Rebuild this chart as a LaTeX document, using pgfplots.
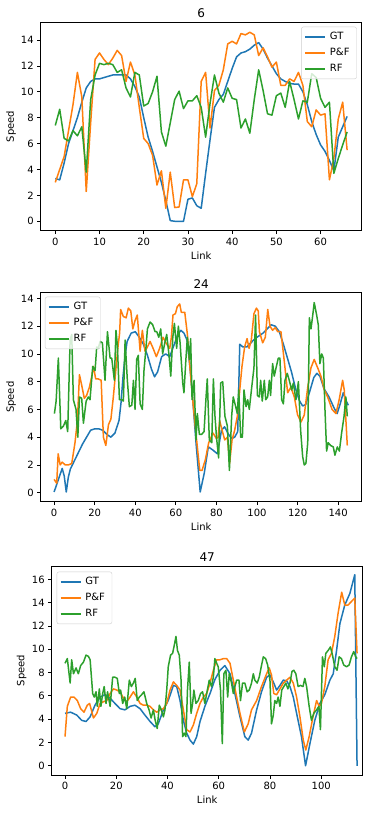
\documentclass[border=0pt]{standalone}
\usepackage{pgfplots}
\pgfplotsset{compat=1.18}
\usepackage{fontspec}
\setmainfont{DejaVu Sans}

\definecolor{cblue}{HTML}{1F77B4}
\definecolor{corange}{HTML}{FF7F0E}
\definecolor{cgreen}{HTML}{2CA02C}

\pgfplotsset{
  speedplot/.style={
    scale only axis,
    anchor=south west,
    axis line style={line width=0.8pt, black},
    tick align=outside,
    xtick pos=bottom, ytick pos=left,
    major tick length=3.5pt,
    tick style={line width=0.8pt, black},
    /pgf/number format/assume math mode=true,
    tick label style={font=\fontsize{10}{12}\selectfont},
    label style={font=\fontsize{10}{12}\selectfont},
    title style={font=\fontsize{12}{14}\selectfont, anchor=center},
    xlabel={Link}, ylabel={Speed},
    legend cell align=left,
    legend image code/.code={\draw[#1] (0pt,0pt) -- (20pt,0pt);},
    legend style={font=\fontsize{10}{12}\selectfont, draw=black!20, rounded corners=2pt,
      fill=white, fill opacity=0.8, text opacity=1, inner xsep=3pt, inner ysep=2pt,
      nodes={text height=7.5pt, text depth=2.5pt, inner ysep=3pt, inner xsep=4pt}},
    every axis plot/.append style={line width=1.5pt, line join=round},
  },
}

\begin{document}
\begin{tikzpicture}
\useasboundingbox (0pt,0pt) rectangle (380pt,-817pt);

% ---------- 6 ----------
\begin{axis}[speedplot,
  at={(40.7pt,-230.7pt)}, width=321pt, height=208.4pt,
  xmin=-3.3, xmax=69.3, ymin=-0.73, ymax=15.37,
  xtick={0,10,...,60}, ytick={0,2,...,14},
  title={6}, title style={at={([yshift=3.4pt]axis description cs:0.5,1)}},
  xlabel style={at={([yshift=-25.3pt]axis description cs:0.5,0)}, anchor=center},
  ylabel style={at={([xshift=-29.7pt]axis description cs:0,0.5)}, anchor=center},
  legend style={at={([xshift=-5pt,yshift=-4.4pt]axis description cs:1,1)}, anchor=north east},
]
\addplot[cblue] coordinates {(0,3.3)(1,3.2)(2,4.5)(3,6.0)(4,7.0)(5,8.0)(6,9.2)(7,10.3)(8,10.8)(9,11.0)(10,11.0)(11,11.1)(12,11.2)(13,11.3)(14,11.3)(15,11.3)(16,11.3)(17,11.0)(18,10.4)(19,9.6)(20,8.0)(21,6.5)(22,5.4)(23,4.2)(24,3.0)(25,1.6)(26,0.05)(27,0)(28,0)(29,0)(30,1.7)(31,1.8)(32,1.2)(33,1.0)(34,3.7)(35,6.3)(36,8.8)(37,9.4)(38,9.8)(39,10.8)(40,11.8)(41,12.7)(42,13.0)(43,13.1)(44,13.3)(45,13.6)(46,13.8)(47,13.3)(48,12.6)(49,12.0)(50,11.4)(51,11.0)(52,10.8)(53,10.65)(54,10.6)(55,10.6)(56,10.0)(57,9.0)(58,7.7)(59,6.7)(60,5.9)(61,5.4)(62,4.7)(63,3.9)(64,6.5)(65,7.3)(66,8.1)};
\addplot[corange] coordinates {(0,3.0)(1,4.0)(2,5.0)(3,7.0)(4,9.0)(5,11.5)(6,9.6)(7,2.3)(8,7.6)(9,12.5)(10,13.0)(11,12.5)(12,12.1)(13,12.6)(14,13.2)(15,12.8)(16,10.8)(17,12.3)(18,11.3)(19,8.8)(20,6.4)(21,6.0)(22,5.1)(23,2.8)(24,3.9)(25,1.0)(26,3.8)(27,1.06)(28,1.1)(29,3.2)(30,3.2)(31,1.9)(32,2.9)(33,10.8)(34,11.5)(35,7.2)(36,10.1)(37,10.5)(38,11.7)(39,13.7)(40,13.9)(41,13.7)(42,14.5)(43,14.4)(44,14.6)(45,14.4)(46,12.8)(47,13.4)(48,12.7)(49,11.9)(50,12.3)(51,10.5)(52,10.5)(53,11.0)(54,10.8)(55,11.5)(56,10.5)(57,7.7)(58,7.3)(59,8.6)(60,8.2)(61,8.3)(62,3.2)(63,4.85)(64,7.9)(65,9.2)(66,5.5)};
\addplot[cgreen] coordinates {(0,7.4)(1,8.65)(2,6.4)(3,6.2)(4,7.0)(5,6.6)(6,7.3)(7,3.8)(8,9.4)(9,11.3)(10,12.2)(11,12.1)(12,12.2)(13,12.1)(14,11.5)(15,11.7)(16,10.3)(17,9.6)(18,11.5)(19,11.3)(20,8.9)(21,9.1)(22,10.0)(23,11.2)(24,6.9)(25,5.8)(26,7.6)(27,9.4)(28,10.05)(29,8.7)(30,9.3)(31,9.3)(32,9.7)(33,8.8)(34,6.5)(35,9.1)(36,11.3)(37,9.9)(38,9.2)(39,10.3)(40,9.5)(41,9.4)(42,7.2)(43,7.9)(44,6.8)(45,9.4)(46,11.7)(47,10.1)(48,8.3)(49,8.2)(50,9.7)(51,9.9)(52,8.8)(53,10.8)(54,9.4)(55,7.9)(56,9.3)(57,9.2)(58,11.4)(59,11.1)(60,9.5)(61,8.8)(62,9.2)(63,3.7)(64,4.85)(65,5.9)(66,6.9)};
\legend{GT, P\&F, RF}
\end{axis}

% ---------- 24 ----------
\begin{axis}[speedplot,
  at={(40.7pt,-501.7pt)}, width=321pt, height=209pt,
  xmin=-6.6, xmax=151.6, ymin=-0.65, ymax=14.41,
  xtick={0,20,...,140}, ytick={0,2,...,14},
  title={24}, title style={at={([yshift=2.5pt]axis description cs:0.5,1)}},
  xlabel style={at={([yshift=-25pt]axis description cs:0.5,0)}, anchor=center},
  ylabel style={at={([xshift=-29.7pt]axis description cs:0,0.5)}, anchor=center},
  legend style={at={([xshift=4.3pt,yshift=-4pt]axis description cs:0,1)}, anchor=north west},
]
\addplot[cblue] coordinates {(0,0.05)(2,0.9)(4,1.75)(5,1.2)(6,0.05)(7,1.1)(8,1.7)(10,2.3)(12,2.9)(14,3.5)(16,4.0)(18,4.5)(20,4.6)(22,4.6)(24,4.5)(26,4.2)(28,4.0)(30,4.3)(32,5.2)(33,6.5)(34,8.4)(35,9.9)(36,10.9)(37,11.2)(38,11.5)(40,11.6)(42,11.2)(44,10.7)(46,9.9)(48,8.9)(49.5,8.35)(51,8.7)(53,9.8)(55,10.0)(57,9.8)(59,10.6)(61,11.4)(62.5,11.7)(64,11.5)(65.5,11.0)(67,9.0)(68.5,6.4)(70,3.5)(72,0.05)(74,1.4)(76,3.3)(78,3.1)(80.5,2.8)(82.5,4.5)(84,4.75)(86,4.2)(87.5,3.9)(89,4.0)(90.5,4.4)(91.5,10.7)(93,10.5)(95,10.5)(97,10.8)(99,11.1)(101,11.3)(103,11.5)(105,11.8)(107,12.1)(109,12.0)(111,11.6)(113,10.7)(115,9.7)(117,8.7)(119,7.5)(121,6.6)(122.5,6.25)(124,6.35)(126,7.3)(128,8.3)(129.5,8.6)(131,8.4)(133,7.5)(135.5,6.9)(138,6.1)(139.5,5.7)(141,6.4)(142.5,7.2)(144,6.6)(145,6.3)};
\addplot[corange] coordinates {(0,0.96)(1.3,0.68)(2,2.8)(3,2.0)(4,2.2)(5.5,2.0)(7,2.0)(8.7,2.1)(10.3,3.6)(11.5,5.2)(12.5,8.5)(13.6,7.75)(14.9,6.8)(16,7.0)(17.4,7.6)(18.6,8.4)(19.4,9.1)(20.5,8.2)(21.7,8.2)(23.2,8.1)(24.3,4.0)(25.5,3.4)(26.8,4.9)(28,5.3)(29.2,6.9)(30.4,8.8)(31.4,10.4)(32.3,11.5)(32.8,13.2)(34.1,12.7)(35.5,12.6)(36.6,13.3)(37.8,13.1)(38.8,11.8)(39.9,12.4)(41,12.8)(42.4,10.2)(43.5,11.7)(44.8,10.2)(46,10.5)(47.3,10.9)(48.8,10.4)(50.4,9.8)(52,10.4)(53.7,11.2)(55.3,10.75)(57,10.4)(57.8,11.2)(58.6,12.8)(59.8,12.9)(60.7,13.4)(61.9,13.6)(62.7,13.0)(64.4,13.0)(65.7,11.4)(66.8,9.3)(68.5,6.4)(70.1,4.0)(71.8,1.6)(72.9,1.6)(74.5,2.35)(76.2,3.6)(78.3,4.3)(80,3.9)(80.8,4.0)(81.6,5.2)(82.8,4.5)(84.1,3.8)(85.4,4.0)(86.5,2.1)(87.7,3.8)(89,4.5)(90.3,5.5)(91.5,7.4)(92.6,9.1)(93.9,10.5)(95.1,11.1)(96.1,10.4)(97.2,11.0)(98.5,12.9)(99.7,13.3)(100.6,13.1)(101.2,11.6)(102.8,10.8)(104.1,11.2)(105.3,13.2)(106.4,12.0)(107.7,11.7)(109,11.9)(110.2,11.6)(111.8,11.6)(113.5,9.4)(115.1,7.2)(116.7,7.6)(118.4,6.9)(120,5.6)(121.7,5.1)(123.3,5.6)(125,7.6)(126.6,9.0)(128.2,9.6)(129.9,9.0)(131.5,8.4)(133.2,7.4)(134.8,6.9)(137,6.0)(138.9,5.7)(140.5,6.7)(142.2,8.1)(143,7.4)(144.5,3.4)};
\addplot[cgreen] coordinates {(0.16,5.7)(1.0,6.6)(2.1,9.7)(3.3,4.6)(4.6,4.8)(5.75,5.2)(6.7,4.4)(7.9,11.0)(8.7,11.4)(9.5,6.7)(10.8,6.0)(11.7,4.0)(12.5,6.9)(13.6,6.8)(14.45,5.0)(15.8,6.6)(16.9,6.9)(17.7,6.7)(19.05,9.1)(20.2,8.8)(21.0,10.5)(21.8,10.4)(22.7,10.9)(23.8,10.8)(25.1,8.1)(26.3,11.6)(27.6,9.7)(28.4,9.7)(29.7,8.1)(30.5,11.7)(31.2,10.6)(32.2,6.7)(33.3,6.7)(34.15,6.6)(35.0,11.0)(36.1,8.1)(37.1,6.2)(38.3,6.3)(39.1,8.1)(39.9,6.0)(40.7,9.6)(41.5,9.9)(42.4,6.4)(43.5,6.0)(44.3,8.8)(45.2,10.3)(46.0,11.8)(47.3,12.3)(48.6,12.1)(49.75,11.6)(50.6,11.6)(51.6,11.2)(52.55,11.8)(53.5,10.0)(54.7,10.9)(55.5,11.4)(56.65,9.9)(57.5,8.4)(58.5,11.2)(59.3,12.2)(60.4,10.4)(61.25,12.0)(62.1,10.8)(63.4,7.9)(64.0,7.2)(65.0,9.7)(65.7,11.2)(66.7,9.6)(67.3,11.1)(68.0,6.7)(69.0,8.1)(69.95,3.8)(70.6,5.7)(71.6,4.2)(72.7,4.2)(73.9,4.4)(74.9,6.9)(75.5,8.2)(76.5,3.8)(77.7,3.6)(78.5,8.2)(79.3,5.5)(80.1,3.9)(81.1,2.5)(82.1,7.9)(83.1,8.0)(84.2,5.5)(85.4,4.8)(86.4,1.6)(87.5,5.5)(88.3,6.9)(89.5,6.2)(90.3,5.7)(91.0,7.4)(91.95,4.0)(92.8,4.0)(93.6,7.4)(94.6,6.2)(95.4,6.7)(96.2,6.0)(97.4,7.6)(98.5,9.0)(99.3,12.8)(100.2,7.0)(101.15,6.9)(101.8,8.1)(102.6,6.6)(103.6,8.1)(104.3,6.7)(105.25,6.9)(106.1,8.1)(106.7,7.0)(107.7,9.3)(108.5,8.4)(109.4,9.0)(110.5,9.7)(111.3,9.7)(112.15,6.7)(113.0,6.4)(113.8,8.1)(114.9,8.6)(115.9,8.1)(117.1,7.4)(117.9,7.9)(119.2,6.7)(120.4,8.0)(121.5,4.5)(122.5,2.6)(123.3,2.0)(124.1,2.1)(125.0,3.6)(125.8,12.6)(126.6,11.8)(127.4,12.7)(128.2,13.7)(129.4,12.8)(130.2,12.1)(131.0,9.3)(131.9,10.0)(132.7,9.7)(133.5,6.0)(134.3,3.0)(135.1,3.6)(136.3,3.4)(137.6,3.3)(138.4,2.7)(139.6,3.3)(140.6,3.0)(141.7,4.3)(142.9,5.5)(143.8,6.9)(144.5,5.5)};
\legend{GT, P\&F, RF}
\end{axis}

% ---------- 47 ----------
\begin{axis}[speedplot,
  at={(51.7pt,-775.3pt)}, width=311pt, height=209.3pt,
  xmin=-5.2, xmax=116.2, ymin=-0.82, ymax=17.15,
  xtick={0,20,...,100}, ytick={0,2,...,16},
  title={47}, title style={at={([yshift=2.7pt]axis description cs:0.5,1)}},
  xlabel style={at={([yshift=-24.7pt]axis description cs:0.5,0)}, anchor=center},
  ylabel style={at={([xshift=-30pt]axis description cs:0,0.5)}, anchor=center},
  legend style={at={([xshift=5pt,yshift=-5.7pt]axis description cs:0,1)}, anchor=north west},
]
\addplot[cblue] coordinates {(0,4.5)(2.2,4.6)(4.6,4.35)(6.5,3.9)(8.2,3.8)(9.8,4.2)(11.7,5.2)(13.7,5.9)(15.6,6.1)(17.6,5.8)(19.5,5.35)(21.5,4.9)(23.4,4.8)(25.4,5.1)(27.3,5.2)(29.3,4.9)(31.2,4.35)(33.2,3.8)(35.1,3.35)(36.4,3.6)(38.4,4.8)(40.3,5.6)(42.3,6.9)(43.6,6.8)(44.9,5.6)(46.2,3.9)(47.5,2.8)(48.8,2.2)(50.1,1.86)(51.4,2.5)(52.7,3.8)(54.6,5.1)(56.6,6.2)(58.5,7.4)(60.5,8.2)(62.4,8.6)(64.4,7.9)(66.3,6.2)(68.3,4.2)(70.2,2.5)(71.5,2.2)(72.8,2.8)(74.8,4.8)(76.7,6.35)(78.7,7.6)(80,7.8)(81.3,7.2)(82.6,6.5)(83.9,6.9)(85.2,7.35)(86.5,7.3)(87.8,6.8)(89.1,5.9)(90.4,4.5)(92.3,2.5)(93.9,0)(95.6,1.9)(97.5,3.9)(99.5,5.35)(101.4,6.1)(103.4,7.35)(104.7,7.9)(106,9.9)(107.3,12.2)(109.2,13.8)(111.2,14.8)(113.1,16.4)(114,0)};
\addplot[corange] coordinates {(0,2.5)(0.9,5.1)(2.2,5.9)(3.5,5.9)(4.8,5.6)(6.1,4.9)(7.4,4.6)(8.7,5.2)(9.6,5.35)(11.1,4.1)(12.4,4.5)(13.7,5.35)(15,5.5)(16.3,5.6)(17.6,6.2)(18.9,6.6)(20.2,6.5)(21.5,6.35)(22.8,5.8)(24.1,5.5)(25.4,5.9)(26.7,6.35)(28,5.9)(29.3,5.35)(30.6,5.2)(31.9,5.2)(33.2,5.1)(34.5,4.8)(35.8,4.6)(37.1,4.8)(38.4,4.9)(39.7,5.35)(41,6.5)(42.3,7.2)(43.6,6.9)(44.9,6.5)(46.2,4.8)(47.5,3.1)(48.8,2.9)(50.1,3.5)(51.4,4.5)(52.7,5.35)(54,5.9)(55.3,6.2)(56.6,7.1)(57.9,8.2)(59.2,9.1)(60.5,9.1)(61.8,9.2)(63.1,9.2)(64.4,8.8)(65.7,7.35)(67,5.9)(68.3,4.5)(70,2.9)(71.5,3.6)(72.8,4.8)(74.8,5.6)(76.7,6.8)(78.7,7.9)(79.7,8.4)(80.6,7.8)(81.5,6.2)(82.6,6.1)(83.9,6.6)(85.2,7.1)(86.5,7.35)(87.8,7.6)(89.1,7.1)(90.4,5.9)(91.7,4.2)(93,2.2)(94,1.35)(95.3,2.5)(96.8,4.2)(98.2,5.6)(99.2,5.1)(100.1,5.35)(101.4,6.8)(102.7,9.1)(104,9.65)(105.3,11.1)(106.6,13.1)(108,14.9)(109.2,13.8)(110.5,13.8)(111.8,14.1)(113.1,14.4)(114,9.65)};
\addplot[cgreen] coordinates {(0,8.8)(0.9,9.2)(2,7.1)(2.6,9.1)(3.3,7.9)(4.3,8.4)(5.2,7.9)(6.1,8.6)(7.2,8.9)(8.2,9.5)(9.1,9.4)(9.8,9.1)(10.8,6.2)(11.4,5.9)(12.1,6.35)(12.6,5.1)(13.4,6.6)(14,5.1)(14.7,6.2)(15.3,6.8)(16,5.35)(16.6,6.35)(17.6,5.1)(18.6,7.6)(19.5,7.6)(20.4,7.5)(21.2,6.2)(21.7,6.5)(22.5,5.35)(23.3,5.9)(24.1,4.9)(25.1,7.35)(25.9,6.8)(26.7,7.1)(27.4,7.5)(28.2,5.6)(29,5.9)(29.9,6.1)(30.8,6.35)(31.9,5.35)(32.8,4.8)(33.6,4.1)(34.5,4.8)(35.2,3.9)(36,3.2)(36.8,5.2)(37.6,4.8)(38.4,4.2)(39,4.8)(39.7,6.5)(40.3,8.5)(41.2,9.5)(42,9.65)(42.7,10.4)(43.3,11.1)(43.9,9.9)(44.6,9.5)(45.3,7.35)(45.9,2.5)(46.6,2.8)(47.2,2.5)(47.8,6.5)(48.5,8.9)(49.2,4.5)(49.8,5.35)(50.3,6.5)(51.1,5.35)(52,5.6)(52.9,6.2)(53.7,6.35)(54.6,5.35)(55.3,6.2)(56.3,7.35)(57.2,6.8)(57.9,7.6)(58.5,9.2)(59.2,8.8)(59.8,8.5)(60.7,6.5)(61.4,1.9)(62,7.9)(62.8,8.2)(63.5,5.9)(64.1,7.9)(65,7.1)(65.7,6.2)(66.3,6.8)(67,7.35)(67.9,7.35)(68.5,5.6)(69.3,7.1)(70.2,7.1)(71.1,6.35)(71.9,6.5)(72.8,7.1)(73.5,7.9)(74.1,7.35)(75,7.1)(75.8,7.6)(76.6,8.5)(77.4,9.35)(78.3,9.2)(79.1,8.65)(80,7.35)(80.6,3.6)(81.3,4.35)(81.9,5.6)(82.6,5.35)(83.2,5.9)(83.9,5.1)(84.6,6.5)(85.4,6.8)(86.2,7.1)(87,6.6)(87.8,7.1)(88.6,8.1)(89.3,8.2)(90.1,7.9)(91,6.8)(91.9,6.9)(92.9,6.8)(93.6,7.5)(94.3,6.8)(95.3,5.1)(96.2,3.9)(97.1,4.5)(98.2,4.8)(99.1,5.1)(99.7,3.1)(100.5,9.35)(101.2,8.5)(101.8,9.65)(102.7,9.9)(103.6,10.2)(104.4,9.5)(105.3,8.5)(106.2,8.2)(107,9.35)(107.9,9.2)(108.8,8.65)(109.9,8.5)(110.9,8.65)(111.8,9.35)(112.7,9.8)(113.5,9.35)(114,9.2)};
\legend{GT, P\&F, RF}
\end{axis}
\end{tikzpicture}
\end{document}
